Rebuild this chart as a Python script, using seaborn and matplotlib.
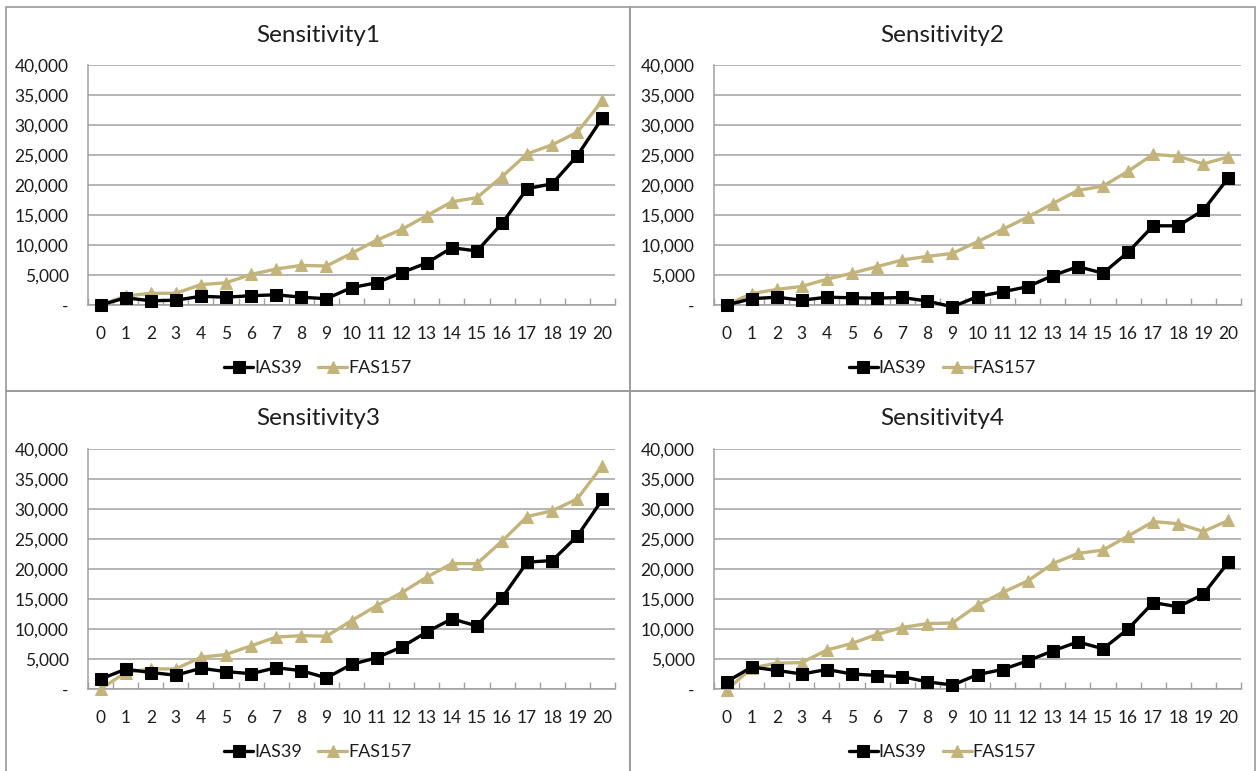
import matplotlib
matplotlib.use("Agg")
import matplotlib.pyplot as plt
from matplotlib.patches import Rectangle
from matplotlib.ticker import FixedLocator, FuncFormatter
import seaborn as sns
import pandas as pd

periods = list(range(21))

titles = ["Sensitivity1", "Sensitivity2", "Sensitivity3", "Sensitivity4"]

ias39_s1 = [0, 1200, 700, 800, 1450, 1300, 1550, 1700, 1300, 1050, 2900, 3700,
            5400, 7000, 9550, 9000, 13600, 19400, 20200, 24900, 31200]
fas157_s1 = [0, 1500, 1950, 1950, 3400, 3700, 5100, 6000, 6600, 6500, 8600, 10800,
             12600, 14900, 17200, 17900, 21400, 25200, 26700, 28800, 34100]

ias39_s2 = [0, 1050, 1300, 800, 1300, 1200, 1150, 1250, 650, -300, 1400, 2200,
            3050, 4900, 6400, 5300, 8800, 13200, 13200, 15800, 21200]
fas157_s2 = [0, 1900, 2600, 3100, 4300, 5300, 6400, 7500, 8100, 8600, 10550, 12600,
             14650, 16900, 19100, 19800, 22300, 25100, 24800, 23500, 24700]

ias39_s3 = [1650, 3300, 2750, 2300, 3450, 2900, 2550, 3550, 3050, 1850, 4100, 5200,
            7000, 9500, 11700, 10500, 15200, 21150, 21400, 25500, 31600]
fas157_s3 = [0, 2750, 3350, 3350, 5300, 5750, 7200, 8650, 8900, 8800, 11400, 13850,
             16050, 18650, 20900, 20900, 24650, 28750, 29700, 31700, 37250]

ias39_s4 = [1200, 3650, 3100, 2500, 3250, 2500, 2250, 2050, 1200, 650, 2400, 3250,
            4700, 6350, 7850, 6700, 10000, 14400, 13700, 15800, 21150]
fas157_s4 = [-200, 3500, 4300, 4400, 6500, 7600, 9100, 10250, 10900, 11000, 13950, 16100,
             18000, 20900, 22600, 23150, 25500, 27900, 27550, 26250, 28100]

series_names = ["IAS39", "FAS157"]
y_ticks = [0, 5000, 10000, 15000, 20000, 25000, 30000, 35000, 40000]

panels = [
    (ias39_s1, fas157_s1),
    (ias39_s2, fas157_s2),
    (ias39_s3, fas157_s3),
    (ias39_s4, fas157_s4),
]

sns.set_theme(style="white")
plt.rcParams["font.family"] = ["Lato", "DejaVu Sans"]

W, H = 1256, 771
fig = plt.figure(figsize=(W / 100, H / 100), dpi=100)

grid_grey = "#a0a0a0"
tan = "#c3b47c"
text_col = "#1e1e1e"

# axes rectangles in pixel space: (left, top, right, bottom)
boxes = [(88, 65, 615, 305), (714, 65, 1241, 305),
         (88, 449, 615, 689), (714, 449, 1241, 689)]
# outer panel frames in pixel space
frames = [(6, 7, 630, 391), (630, 7, 1255, 391),
          (6, 391, 630, 775), (630, 391, 1255, 775)]

for fx0, fy0, fx1, fy1 in frames:
    fig.add_artist(Rectangle((fx0 / W, 1 - fy1 / H), (fx1 - fx0) / W, (fy1 - fy0) / H,
                             transform=fig.transFigure, fill=False,
                             edgecolor="#9a9a9a", linewidth=1.2))

yfmt = FuncFormatter(lambda v, _: "-" if v == 0 else f"{int(v):,}")

for (l, t, r, b), (fx0, fy0, fx1, fy1), title, (ias, fas) in zip(boxes, frames, titles, panels):
    ax = fig.add_axes([l / W, 1 - b / H, (r - l) / W, (b - t) / H])
    df = pd.DataFrame({"period": periods * 2,
                       "value": ias + fas,
                       "series": ["IAS39"] * 21 + ["FAS157"] * 21})
    sns.lineplot(data=df[df.series == "IAS39"], x="period", y="value", ax=ax,
                 color="black", linewidth=2.4, marker="s", markersize=9,
                 markeredgecolor="black", label="IAS39", clip_on=False, zorder=4)
    sns.lineplot(data=df[df.series == "FAS157"], x="period", y="value", ax=ax,
                 color=tan, linewidth=2.4, marker="^", markersize=8,
                 markeredgecolor=tan, label="FAS157", clip_on=False, zorder=3)

    ax.set_xlim(-0.5, 20.5)
    ax.set_ylim(0, 40000)
    ax.yaxis.set_major_locator(FixedLocator(y_ticks))
    ax.yaxis.set_major_formatter(yfmt)
    ax.set_xticks(periods)
    ax.set_xticklabels([str(p) for p in periods])
    ax.xaxis.set_minor_locator(FixedLocator([p - 0.5 for p in range(22)]))
    ax.tick_params(axis="x", which="major", length=0, pad=15, labelsize=12.5,
                   labelcolor=text_col)
    ax.tick_params(axis="x", which="minor", length=5, direction="in",
                   color=grid_grey, width=1, bottom=True)
    ax.tick_params(axis="y", length=0, pad=14, labelsize=12.5, labelcolor=text_col)
    ax.grid(axis="y", color=grid_grey, linewidth=1.1)
    ax.set_axisbelow(True)
    for side in ("top", "right"):
        ax.spines[side].set_visible(False)
    for side in ("left", "bottom"):
        ax.spines[side].set_color(grid_grey)
        ax.spines[side].set_linewidth(1.1)
    ax.set_xlabel("")
    ax.set_ylabel("")

    # title and legend are centred on the whole panel, not on the plot area
    cx = (fx0 + fx1) / 2 / W
    fig.text(cx, 1 - (fy0 + 28) / H, title, fontsize=17.5, color=text_col,
             ha="center", va="center")

    leg = ax.legend(loc="center", bbox_to_anchor=(cx, 1 - (fy0 + 361) / H),
                    bbox_transform=fig.transFigure, ncol=2,
                    frameon=False, fontsize=13, handlelength=1.6,
                    handletextpad=0.05, columnspacing=0.9, numpoints=1)
    for txt in leg.get_texts():
        txt.set_color(text_col)

fig.savefig("out.png", dpi=100)
